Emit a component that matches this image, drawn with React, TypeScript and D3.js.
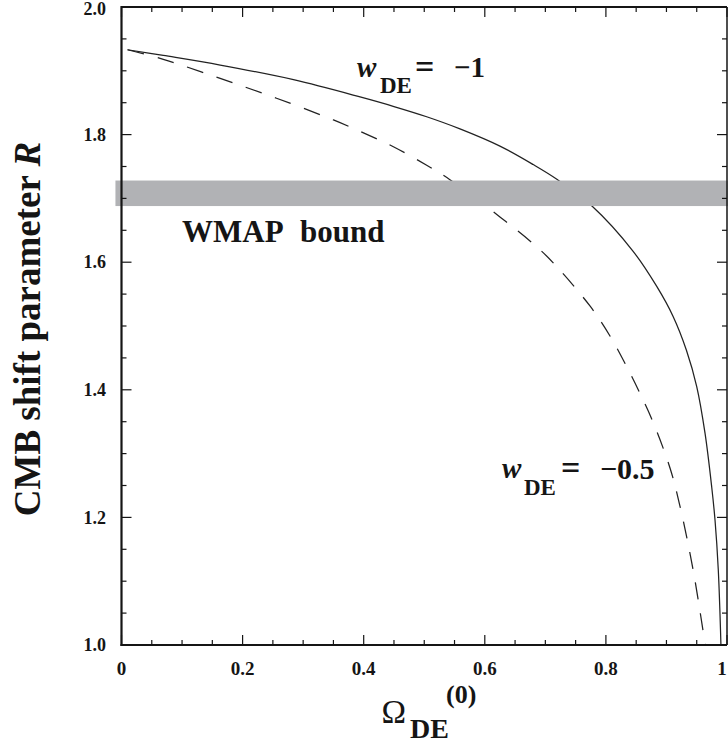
import React from "react";
import * as d3 from "d3";

// ---- data ----
const xTickValues = [0, 0.2, 0.4, 0.6, 0.8, 1];
const xTickLabels = ["0", "0.2", "0.4", "0.6", "0.8", "1"];
const yTickValues = [1.0, 1.2, 1.4, 1.6, 1.8, 2.0];
const yTickLabels = ["1.0", "1.2", "1.4", "1.6", "1.8", "2.0"];

const omegaSolid = [0.01, 0.069, 0.163, 0.284, 0.394, 0.45, 0.504, 0.559, 0.625, 0.68, 0.719, 0.777, 0.845, 0.884, 0.911, 0.933, 0.95, 0.9637, 0.9747, 0.9802, 0.9856, 0.99];
const rSolid = [1.933, 1.924, 1.909, 1.886, 1.859, 1.844, 1.828, 1.809, 1.782, 1.753, 1.73, 1.688, 1.617, 1.562, 1.515, 1.462, 1.405, 1.332, 1.248, 1.196, 1.118, 1.0];

const omegaDashed = [0.01, 0.069, 0.163, 0.256, 0.35, 0.394, 0.449, 0.504, 0.543, 0.625, 0.686, 0.713, 0.774, 0.807, 0.834, 0.856, 0.878, 0.906, 0.922, 0.944, 0.964];
const rDashed = [1.933, 1.918, 1.888, 1.857, 1.823, 1.805, 1.781, 1.752, 1.729, 1.671, 1.624, 1.599, 1.531, 1.484, 1.437, 1.395, 1.349, 1.277, 1.219, 1.118, 1.0];

const wmapBand = [1.688, 1.728];
const bandOmega = [-0.01, 1.002];

const W = 728;
const H = 746;
const L = 121.5, R = 727, T = 7, B = 645;

export default function App() {
  const x = d3.scaleLinear().domain([0, 1]).range([L, R]);
  const y = d3.scaleLinear().domain([1, 2]).range([B, T]);
  const line = d3
    .line<[number, number]>()
    .x((d) => x(d[0]))
    .y((d) => y(d[1]))
    .curve(d3.curveCatmullRom.alpha(0.5));

  const solidPts = omegaSolid.map((o, i) => [o, rSolid[i]] as [number, number]);
  const dashedPts = omegaDashed.map((o, i) => [o, rDashed[i]] as [number, number]);

  const minorX = x.ticks(20);
  const minorY = y.ticks(20);
  const isMajor = (v: number) => Math.abs(v * 5 - Math.round(v * 5)) < 1e-6;

  const font = "'Liberation Serif', 'Times New Roman', serif";
  const ink = "#151515";

  return (
    <svg
      width={W}
      height={H}
      style={{ position: "absolute", left: 0, top: 0, background: "#fff" }}
      fontFamily={font}
    >
      <rect x={0} y={0} width={W} height={H} fill="#fff" />
      {/* curves */}
      <path d={line(solidPts) || ""} fill="none" stroke="#222" strokeWidth={1.25} />
      <path d={line(dashedPts) || ""} fill="none" stroke="#222" strokeWidth={1.25} strokeDasharray="17,14" />
      {/* WMAP band */}
      <rect
        x={x(bandOmega[0])}
        y={y(wmapBand[1])}
        width={x(bandOmega[1]) - x(bandOmega[0])}
        height={y(wmapBand[0]) - y(wmapBand[1])}
        fill="#b1b2b5"
      />
      {/* ticks */}
      {minorX.map((v) => {
        const len = isMajor(v) ? 10 : 5;
        return (
          <g key={"xt" + v}>
            <line x1={x(v)} x2={x(v)} y1={B} y2={B - len} stroke={ink} strokeWidth={1.2} />
            <line x1={x(v)} x2={x(v)} y1={T} y2={T + len} stroke={ink} strokeWidth={1.2} />
          </g>
        );
      })}
      {minorY.map((v) => {
        const len = isMajor(v) ? 10 : 5;
        return (
          <g key={"yt" + v}>
            <line x1={L} x2={L + len} y1={y(v)} y2={y(v)} stroke={ink} strokeWidth={1.2} />
            <line x1={R} x2={R - len} y1={y(v)} y2={y(v)} stroke={ink} strokeWidth={1.2} />
          </g>
        );
      })}
      {/* frame */}
      <line x1={L} x2={R} y1={T} y2={T} stroke={ink} strokeWidth={2} />
      <line x1={R} x2={R} y1={T} y2={B} stroke={ink} strokeWidth={1.5} />
      <line x1={L} x2={L} y1={T - 1} y2={B + 1} stroke={ink} strokeWidth={2.2} />
      <line x1={L - 1} x2={R} y1={B} y2={B} stroke={ink} strokeWidth={2.2} />
      {/* tick labels */}
      {xTickValues.map((v, i) => (
        <text key={"xl" + v} x={Math.min(x(v), 722)} y={674.5} textAnchor="middle" fontSize={19} fontWeight="bold" fill={ink}>
          {xTickLabels[i]}
        </text>
      ))}
      {yTickValues.map((v, i) => (
        <text key={"yl" + v} x={106} y={Math.max(y(v) + 6.2, 15)} textAnchor="end" fontSize={18} fontWeight="bold" fill={ink}>
          {yTickLabels[i]}
        </text>
      ))}
      {/* y title */}
      <text
        transform="translate(40,329) rotate(-90)"
        textAnchor="middle"
        fontSize={37}
        fontWeight="bold"
        fill={ink}
      >
        CMB shift parameter <tspan fontStyle="italic">R</tspan>
      </text>
      {/* x title */}
      <text x={381.5} y={723} fontSize={33} fill={ink}>Ω</text>
      <text x={410} y={738} fontSize={28} fontWeight="bold" fill={ink}>DE</text>
      <text x={446} y={703} fontSize={26} fontWeight="bold" fill={ink}>(0)</text>
      {/* labels */}
      <text x={357} y={77} fontSize={29} fontWeight="bold" fontStyle="italic" fill={ink}>w</text>
      <text x={380} y={93} fontSize={23} fontWeight="bold" fill={ink}>DE</text>
      <text x={415} y={78} fontSize={34} fontWeight="bold" fill={ink}>=</text>
      <text x={454} y={77} fontSize={29} fontWeight="bold" fill={ink}>−1</text>

      <text x={502} y={478} fontSize={29} fontWeight="bold" fontStyle="italic" fill={ink}>w</text>
      <text x={524} y={495} fontSize={23} fontWeight="bold" fill={ink}>DE</text>
      <text x={561} y={479} fontSize={34} fontWeight="bold" fill={ink}>=</text>
      <text x={600} y={479} fontSize={30} fontWeight="bold" fill={ink}>−0.5</text>

      <text x={182} y={242} fontSize={31} fontWeight="bold" fill={ink}>WMAP</text>
      <text x={300} y={242} fontSize={31} fontWeight="bold" fill={ink}>bound</text>
    </svg>
  );
}
